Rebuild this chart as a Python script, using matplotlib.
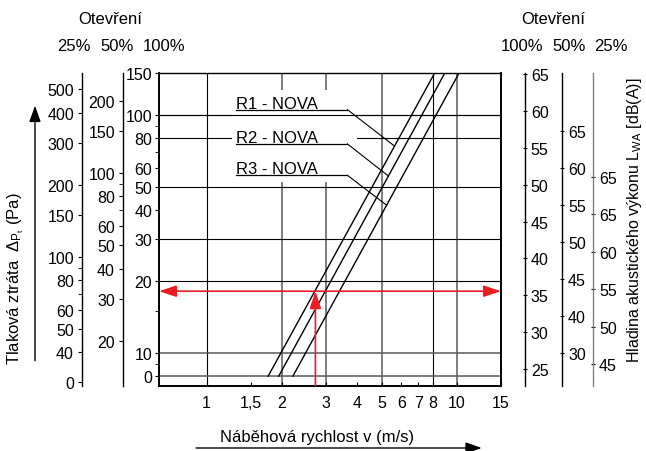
import numpy as np
import matplotlib.pyplot as plt
from matplotlib.patches import Rectangle

plt.rcParams['font.family'] = ['Liberation Sans', 'DejaVu Sans']
plt.rcParams['mathtext.fontset'] = 'custom'
plt.rcParams['mathtext.rm'] = 'Liberation Sans'
plt.rcParams['mathtext.it'] = 'Liberation Sans'

W, H = 646, 452

# --- data ---
dp_line = [8, 150]                       # Pa (inner scale, 100 % opening)
v_r1 = [1.76, 8.15]                      # m/s
v_r2 = [1.94, 8.95]
v_r3 = [2.21, 10.2]
line_names = ['R1 - NOVA', 'R2 - NOVA', 'R3 - NOVA']
name_dp = [105.3, 75.6, 55.8]            # height of underlined names
leader_dp = [74.0, 55.4, 41.8]           # where the leaders meet the lines

v_example = 2.72
dp_example = 18.2

x_ticks = [1, 1.5, 2, 3, 4, 5, 6, 7, 8, 10, 15]
x_ticklabels = ['1', '1,5', '2', '3', '4', '5', '6', '7', '8', '10', '15']
x_grid_black = [1, 8]
x_grid_gray = [2, 3, 5, 10]
y_grid_black = [100, 80, 50, 30, 20]
y_grid_gray = [10, 8]

# pressure scales (left) and sound power scales (right)
p100_ticks = [150, 100, 80, 60, 50, 40, 30, 20, 10, 8]
p100_labels = ['150', '100', '80', '60', '50', '40', '30', '20', '10', '0']
p100_minor = [90, 70, 15, 9]
p50_ticks = [200, 150, 100, 80, 60, 50, 40, 30, 20]
p50_labels = ['200', '150', '100', '80', '60', '50', '40', '30', '20']
p50_minor = [90, 70]
p25_ticks = [500, 400, 300, 200, 150, 100, 80, 60, 50, 40, 30]
p25_labels = ['500', '400', '300', '200', '150', '100', '80', '60', '50', '40', '0']
p25_minor = [90, 70]
db100_ticks = [65, 60, 55, 50, 45, 40, 35, 30, 25]
db100_labels = ['65', '60', '55', '50', '45', '40', '35', '30', '25']
db50_ticks = [65, 60, 55, 50, 45, 40, 35]
db50_labels = ['65', '60', '55', '50', '45', '40', '30']
db25_ticks = [70, 65, 60, 55, 50, 45]
db25_labels = ['65', '65', '60', '55', '50', '45']

fig = plt.figure(figsize=(W / 100, H / 100), dpi=100)

left, right, top, bottom = 159, 501, 74, 386.7
ax_b = 1 - bottom / H
ax_h = (bottom - top) / H
ax = fig.add_axes([left / W, ax_b, (right - left) / W, ax_h])
ax.set_xscale('log')
ax.set_yscale('log')
ax.set_xlim(0.645, 15)
ax.set_ylim(7.3, 150)

gray = '#5a5a5a'
for x in x_grid_black:
    ax.axvline(x, color='black', lw=0.8, zorder=1)
for x in x_grid_gray:
    ax.axvline(x, color=gray, lw=1.1, zorder=1)
for y in y_grid_black:
    ax.axhline(y, color='black', lw=0.8, zorder=1)
for y in y_grid_gray:
    ax.axhline(y, color=gray, lw=1.1, zorder=1)

# white field behind the names
ax.add_patch(Rectangle((1.26, 52.4), 3.98 - 1.26, 126.8 - 52.4,
                       facecolor='white', lw=0, zorder=1.5))
ax.axhline(100, color='black', lw=0.8, zorder=1.6)

for v in (v_r1, v_r2, v_r3):
    ax.plot(v, dp_line, color='black', lw=1.0, zorder=3)

for name, ydp, ldp, v in zip(line_names, name_dp, leader_dp, (v_r1, v_r2, v_r3)):
    ax.annotate(name, xy=(1.311, ydp), xytext=(0, 1.5), textcoords='offset points',
                ha='left', va='baseline', fontsize=12, zorder=4)
    ax.plot([1.311, 3.65], [ydp, ydp], color='black', lw=0.9, zorder=4)
    vx = 10 ** np.interp(np.log10(ldp), np.log10(dp_line), np.log10(v))
    ax.plot([3.65, vx], [ydp, ldp], color='black', lw=0.8, zorder=4)

red = '#ed1c24'
ax.annotate('', xy=(0, dp_example), xytext=(1, dp_example),
            xycoords=('axes fraction', 'data'),
            arrowprops=dict(arrowstyle='<|-|>,head_length=0.75,head_width=0.25',
                            mutation_scale=14, color=red, lw=1.2,
                            shrinkA=0, shrinkB=0), zorder=5)
ax.annotate('', xy=(v_example, dp_example), xytext=(v_example, 7.3),
            arrowprops=dict(arrowstyle='-|>,head_length=0.75,head_width=0.25',
                            mutation_scale=14, color=red, lw=1.2,
                            shrinkA=0, shrinkB=0), zorder=5)

ax.set_xticks(x_ticks, x_ticklabels)
ax.set_xticks([], minor=True)
ax.tick_params(axis='x', direction='in', length=3, pad=7, labelsize=11.5)
ax.set_yticks(p100_ticks, p100_labels)
ax.set_yticks(p100_minor, minor=True)
ax.tick_params(axis='y', which='both', direction='out', length=3, pad=2, labelsize=11.5)
ax.tick_params(axis='y', which='minor', labelleft=False)
for s in ax.spines.values():
    s.set_linewidth(1.4)
ax.spines['top'].set_linewidth(1.0)


def side_axis(xpix, side, scale, ylim, ticks, labels, minor, color='black'):
    a = fig.add_axes([xpix / W, ax_b, 0.0001, ax_h])
    a.set_yscale(scale)
    a.set_ylim(ylim)
    a.patch.set_visible(False)
    for s in a.spines.values():
        s.set_visible(False)
    a.spines[side].set_visible(True)
    a.spines[side].set_color(color)
    a.spines[side].set_linewidth(1.0)
    a.xaxis.set_visible(False)
    a.yaxis.set_ticks_position(side)
    a.set_yticks(ticks, labels)
    a.set_yticks(minor, minor=True)
    a.tick_params(axis='y', which='both', direction='inout' if side == 'right' else 'out',
                  length=3, pad=3, labelsize=11.5, color='black')
    a.tick_params(axis='y', which='minor', labelleft=False, labelright=False)
    return a


side_axis(82.3, 'left', 'log', (29.0, 585), p25_ticks, p25_labels, p25_minor)
side_axis(123.3, 'left', 'log', (13.0, 261), p50_ticks, p50_labels, p50_minor)
side_axis(524.5, 'right', 'linear', (22.74, 65.14), db100_ticks, db100_labels, [])
side_axis(561.7, 'right', 'linear', (30.63, 72.78), db50_ticks, db50_labels, [])
side_axis(592.7, 'right', 'linear', (42.1, 83.84), db25_ticks, db25_labels, [], color='#808080')

fs = 12
fig.text(110 / W, 1 - 19 / H, 'Otevření', ha='center', va='center', fontsize=fs)
fig.text(552.7 / W, 1 - 19 / H, 'Otevření', ha='center', va='center', fontsize=fs)
for xp, t in [(74, '25%'), (116.7, '50%'), (164.3, '100%'),
              (522.3, '100%'), (569.3, '50%'), (611.3, '25%')]:
    fig.text(xp / W, 1 - 46.7 / H, t, ha='center', va='center', fontsize=fs)

fig.text(316.7 / W, 1 - 438 / H, 'Náběhová rychlost v (m/s)', ha='center', va='center', fontsize=fs)
fig.text(16 / W, 1 - 279 / H, r'Tlaková ztráta  $\Delta_{P_t}$ (Pa)', ha='center', va='center',
         rotation=90, fontsize=fs)
fig.text(635 / W, 1 - 220 / H, r'Hladina akustického výkonu L$_{WA}$ [dB(A)]', ha='center',
         va='center', rotation=90, fontsize=11.5)

arrow = dict(arrowstyle='-|>,head_length=0.7,head_width=0.25', mutation_scale=14,
             color='black', lw=1.0, shrinkA=0, shrinkB=0)
ax.annotate('', xy=(481.7, H - 449), xytext=(196, H - 449), xycoords='figure pixels',
            textcoords='figure pixels', arrowprops=arrow, annotation_clip=False)
ax.annotate('', xy=(35, H - 106.7), xytext=(35, H - 361.7), xycoords='figure pixels',
            textcoords='figure pixels', arrowprops=arrow, annotation_clip=False)

fig.savefig('out.png', dpi=100)
